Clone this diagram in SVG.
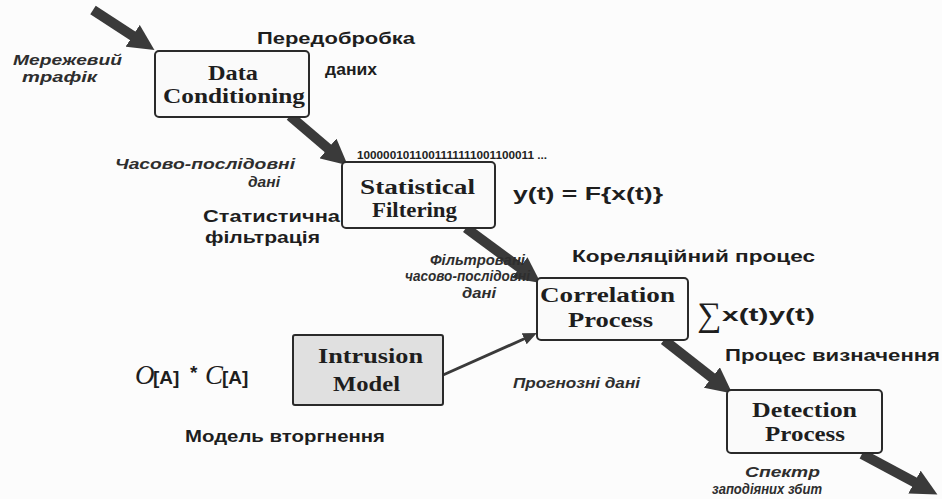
<svg xmlns="http://www.w3.org/2000/svg" width="942" height="499" viewBox="0 0 942 499">
<style>
.bg{fill:#fcfcfc}
.box{fill:#fafafa;stroke:#2a2a2a;stroke-width:2}
.gray{fill:#e0e0e0}
.nt{font-family:"Liberation Serif",serif;font-weight:bold;font-size:20px;fill:#1e1e1e}
.lb{font-family:"Liberation Sans",Arial,sans-serif;font-weight:bold;font-size:17px;fill:#1e1e1e}
.it{font-family:"Liberation Sans",Arial,sans-serif;font-weight:bold;font-style:italic;font-size:15px;fill:#2e2e2e}
.eq{font-family:"Liberation Sans",Arial,sans-serif;font-weight:bold;font-size:19px;fill:#1e1e1e}
.bits{font-family:"Liberation Sans",Arial,sans-serif;font-weight:bold;font-size:11px;fill:#222}
.thick{stroke:#3a3a3a;stroke-width:10;fill:none;stroke-linecap:butt}
.thin{stroke:#3a3a3a;stroke-width:3;fill:none}
</style>
<defs>
<marker id="ah" markerUnits="userSpaceOnUse" markerWidth="28" markerHeight="26" refX="4" refY="13" orient="auto">
<path d="M0,0 L26,13 L0,26 z" fill="#3a3a3a"/>
</marker>
<marker id="ahs" markerUnits="userSpaceOnUse" markerWidth="16" markerHeight="12" refX="2" refY="6" orient="auto">
<path d="M0,0 L14,6 L0,12 z" fill="#3a3a3a"/>
</marker>
</defs>
<rect class="bg" x="0" y="0" width="942" height="499"/>

<g id="connectors">
<line class="thick" x1="93" y1="10" x2="136" y2="38" marker-end="url(#ah)"/>
<line class="thick" x1="290" y1="116" x2="331" y2="151" marker-end="url(#ah)"/>
<line class="thick" x1="466" y1="228" x2="523" y2="270" marker-end="url(#ah)"/>
<line class="thick" x1="664" y1="340" x2="715" y2="380" marker-end="url(#ah)"/>
<line class="thick" x1="862" y1="454" x2="918" y2="484" marker-end="url(#ah)"/>
<line class="thin" x1="443" y1="375" x2="526" y2="338" marker-end="url(#ahs)"/>
</g>

<g id="data-conditioning">
<rect class="box" x="155" y="51" width="154" height="66" rx="4"/>
<text class="nt" x="208" y="80" textLength="50" lengthAdjust="spacingAndGlyphs">Data</text>
<text class="nt" x="163" y="103" textLength="142" lengthAdjust="spacingAndGlyphs">Conditioning</text>
</g>

<g id="statistical-filtering">
<rect class="box" x="342" y="162" width="153" height="66" rx="4"/>
<text class="nt" x="360" y="194" textLength="115" lengthAdjust="spacingAndGlyphs">Statistical</text>
<text class="nt" x="372" y="217" textLength="85" lengthAdjust="spacingAndGlyphs">Filtering</text>
</g>

<g id="correlation-process">
<rect class="box" x="537" y="278" width="151" height="62" rx="4"/>
<text class="nt" x="540" y="302" textLength="135" lengthAdjust="spacingAndGlyphs">Correlation</text>
<text class="nt" x="568" y="327" textLength="85" lengthAdjust="spacingAndGlyphs">Process</text>
</g>

<g id="intrusion-model">
<rect class="box gray" x="293" y="335" width="150" height="70" rx="2"/>
<text class="nt" x="318" y="363" textLength="105" lengthAdjust="spacingAndGlyphs">Intrusion</text>
<text class="nt" x="333" y="391" textLength="67" lengthAdjust="spacingAndGlyphs">Model</text>
</g>

<g id="detection-process">
<rect class="box" x="727" y="390" width="155" height="63" rx="4"/>
<text class="nt" x="752" y="417" textLength="105" lengthAdjust="spacingAndGlyphs">Detection</text>
<text class="nt" x="765" y="441" textLength="80" lengthAdjust="spacingAndGlyphs">Process</text>
</g>

<g id="labels">
<text class="it" x="13" y="65" textLength="109" lengthAdjust="spacingAndGlyphs">Мережевий</text>
<text class="it" x="22" y="82" textLength="75" lengthAdjust="spacingAndGlyphs">трафік</text>
<text class="lb" x="257" y="44" textLength="158" lengthAdjust="spacingAndGlyphs">Передобробка</text>
<text class="lb" x="325" y="75" textLength="52" lengthAdjust="spacingAndGlyphs">даних</text>
<text class="bits" x="357" y="159" textLength="190" lengthAdjust="spacingAndGlyphs">1000001011001111111001100011 ...</text>
<text class="it" x="115" y="169" textLength="180" lengthAdjust="spacingAndGlyphs">Часово-послідовні</text>
<text class="it" x="248" y="187" textLength="32" lengthAdjust="spacingAndGlyphs">дані</text>
<text class="lb" x="203" y="222" textLength="137" lengthAdjust="spacingAndGlyphs">Статистична</text>
<text class="lb" x="205" y="243" textLength="115" lengthAdjust="spacingAndGlyphs">фільтрація</text>
<text class="eq" x="513" y="200" textLength="150" lengthAdjust="spacingAndGlyphs">y(t) = F{x(t)}</text>
<text class="lb" x="572" y="262" textLength="243" lengthAdjust="spacingAndGlyphs">Кореляційний процес</text>
<text class="it" x="430" y="265" textLength="95" lengthAdjust="spacingAndGlyphs">Фільтровані</text>
<text class="it" x="405" y="281" textLength="125" lengthAdjust="spacingAndGlyphs">часово-послідовні</text>
<text class="it" x="462" y="298" textLength="34" lengthAdjust="spacingAndGlyphs">дані</text>
<text x="697" y="326" font-family="'Liberation Serif',serif" font-size="34" fill="#1e1e1e">∑</text>
<text class="eq" x="722" y="321" textLength="93" lengthAdjust="spacingAndGlyphs">x(t)y(t)</text>
<text x="135" y="384" font-family="'Liberation Serif',serif" font-style="italic" font-size="27" fill="#1e1e1e">O</text>
<text class="eq" x="153" y="384" font-weight="normal" font-size="18">[A]</text>
<text class="eq" x="190" y="379" font-weight="normal" font-size="18">*</text>
<text x="205" y="384" font-family="'Liberation Serif',serif" font-style="italic" font-size="27" fill="#1e1e1e">C</text>
<text class="eq" x="222" y="384" font-weight="normal" font-size="18">[A]</text>
<text class="lb" x="185" y="442" textLength="200" lengthAdjust="spacingAndGlyphs">Модель вторгнення</text>
<text class="lb" x="725" y="361" textLength="215" lengthAdjust="spacingAndGlyphs">Процес визначення</text>
<text class="it" x="513" y="388" textLength="127" lengthAdjust="spacingAndGlyphs">Прогнозні дані</text>
<text class="it" x="745" y="477" textLength="75" lengthAdjust="spacingAndGlyphs">Спектр</text>
<text class="it" x="712" y="494" font-size="14" textLength="110" lengthAdjust="spacingAndGlyphs">заподіяних збит</text>
</g>
</svg>
